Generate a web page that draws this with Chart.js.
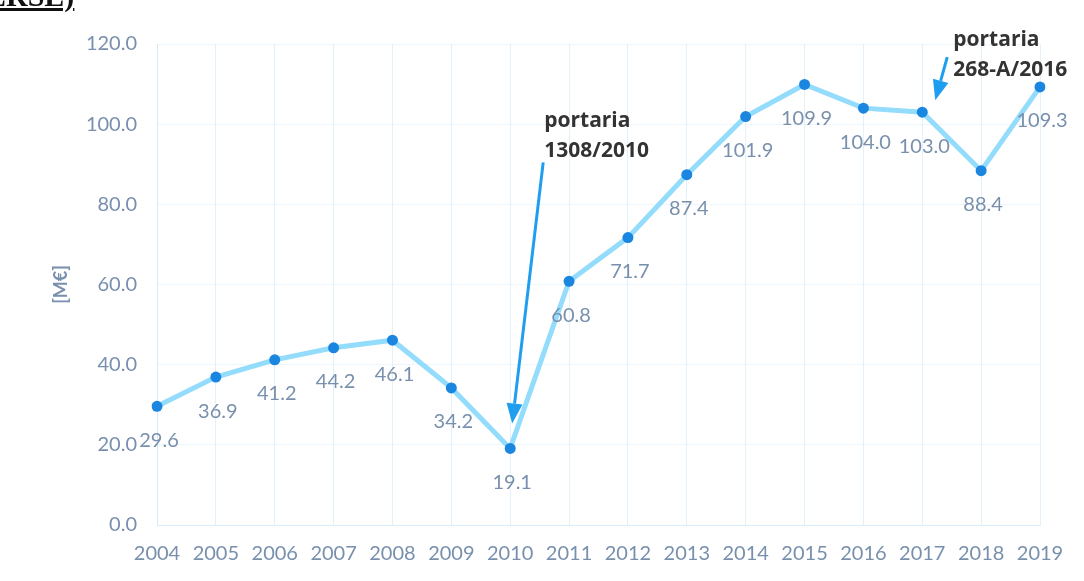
<!DOCTYPE html>
<html>
<head>
<meta charset="utf-8">
<script src="https://cdn.jsdelivr.net/npm/chart.js@4/dist/chart.umd.min.js"></script>
<style>
  body { margin: 0; background: #fff; }
  .wrap { position: relative; width: 1084px; height: 581px; overflow: hidden; }
  .src { position: absolute; left: -24px; top: -21px; font: bold 30px "Liberation Serif", serif; color: #111; text-decoration: underline; }
  canvas { display: block; }
</style>
</head>
<body>
<div class="wrap">
  <div class="src">(ERSE)</div>
  <canvas id="chart" width="1084" height="581"></canvas>
</div>
<script>
const years = ["2004", "2005", "2006", "2007", "2008", "2009", "2010", "2011",
  "2012", "2013", "2014", "2015", "2016", "2017", "2018", "2019"];
const values = [29.6, 36.9, 41.2, 44.2, 46.1, 34.2, 19.1, 60.8,
  71.7, 87.4, 101.9, 109.9, 104.0, 103.0, 88.4, 109.3];
const notes = [
  { year: "2010", lines: ["portaria", "1308/2010"] },
  { year: "2017", lines: ["portaria", "268-A/2016"] }
];

const tickColor = "#7890ad";
const gridColor = "rgba(200, 228, 248, 0.5)";

// value under each point
const valueLabels = {
  id: "valueLabels",
  afterDatasetsDraw(chart) {
    const ctx = chart.ctx;
    const meta = chart.getDatasetMeta(0);
    ctx.save();
    ctx.font = "20px Lato, sans-serif";
    ctx.fillStyle = tickColor;
    ctx.textAlign = "center";
    ctx.textBaseline = "middle";
    meta.data.forEach((pt, i) => {
      ctx.fillText(values[i].toFixed(1), pt.x + 2, pt.y + 34);
    });
    ctx.restore();
  }
};

function arrow(ctx, x1, y1, x2, y2) {
  const ang = Math.atan2(y2 - y1, x2 - x1);
  const len = 20, half = 8;
  const bx = x2 - len * Math.cos(ang), by = y2 - len * Math.sin(ang);
  ctx.beginPath();
  ctx.moveTo(x1, y1);
  ctx.lineTo(bx, by);
  ctx.stroke();
  ctx.beginPath();
  ctx.moveTo(x2, y2);
  ctx.lineTo(bx + half * Math.sin(ang), by - half * Math.cos(ang));
  ctx.lineTo(bx - half * Math.sin(ang), by + half * Math.cos(ang));
  ctx.closePath();
  ctx.fill();
}

const annotations = {
  id: "annotations",
  afterDraw(chart) {
    const ctx = chart.ctx;
    const x = chart.scales.x, y = chart.scales.y;
    ctx.save();
    ctx.strokeStyle = "#1f9ef0";
    ctx.fillStyle = "#1f9ef0";
    ctx.lineWidth = 3;

    // 1308/2010
    const i1 = years.indexOf(notes[0].year);
    const px1 = x.getPixelForValue(i1), py1 = y.getPixelForValue(values[i1]);
    arrow(ctx, px1 + 33, py1 - 286, px1 + 2, py1 - 25);

    // 268-A/2016
    const i2 = years.indexOf(notes[1].year);
    const px2 = x.getPixelForValue(i2), py2 = y.getPixelForValue(values[i2]);
    arrow(ctx, px2 + 25, py2 - 55, px2 + 13, py2 - 12);

    ctx.fillStyle = "#333";
    ctx.font = "bold 21px 'Open Sans', sans-serif";
    ctx.textAlign = "left";
    ctx.textBaseline = "middle";
    ctx.fillText(notes[0].lines[0], px1 + 34, py1 - 327);
    ctx.fillText(notes[0].lines[1], px1 + 34, py1 - 297);
    ctx.fillText(notes[1].lines[0], px2 + 31, py2 - 72);
    ctx.fillText(notes[1].lines[1], px2 + 31, py2 - 42);
    ctx.restore();
  }
};

new Chart(document.getElementById("chart"), {
  type: "line",
  data: {
    labels: years,
    datasets: [{
      data: values,
      borderColor: "#93dcfb",
      borderWidth: 5,
      pointRadius: 5.5,
      pointBackgroundColor: "#1b86e0",
      pointBorderColor: "#1b86e0",
      pointBorderWidth: 0,
      tension: 0
    }]
  },
  options: {
    responsive: false,
    animation: false,
    layout: { padding: { top: 44, right: 44, left: 0, bottom: 0 } },
    plugins: {
      legend: { display: false },
      tooltip: { enabled: false }
    },
    scales: {
      x: {
        offset: false,
        grid: { color: gridColor, drawTicks: false },
        border: { color: gridColor },
        ticks: { color: tickColor, padding: 17, font: { family: "Lato", size: 20 }, maxRotation: 0 },
        afterFit(s) { s.height = 56; }
      },
      y: {
        min: 0,
        max: 120,
        grid: { color: "rgba(200, 228, 248, 0.35)", drawTicks: false },
        border: { color: gridColor },
        ticks: {
          stepSize: 20,
          color: tickColor,
          padding: 20,
          font: { family: "Lato", size: 20 },
          callback: v => v.toFixed(1)
        },
        title: {
          display: true,
          text: "[M€]",
          color: tickColor,
          font: { family: "Lato", size: 18, weight: "bold" },
          padding: { top: 50, bottom: 0 }
        },
        afterFit(s) { s.width = 157; }
      }
    }
  },
  plugins: [valueLabels, annotations]
});
</script>
</body>
</html>
